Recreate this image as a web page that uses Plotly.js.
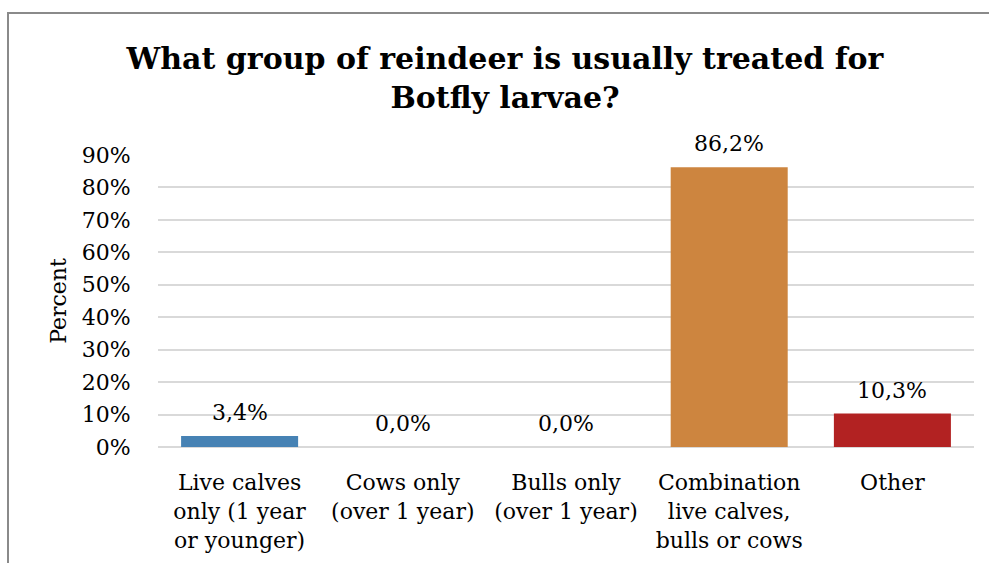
<!DOCTYPE html>
<html>
<head>
<meta charset="utf-8">
<script src="https://cdn.plot.ly/plotly-3.0.1.min.js"></script>
<style>
html, body { margin: 0; padding: 0; background: #ffffff; }
#chart { position: absolute; left: 0; top: 0; width: 989px; height: 563px; }
#frame { position: absolute; left: 7px; top: 12px; width: 1100px; height: 700px;
  border-left: 2px solid #8a8a8a; border-top: 2px solid #8a8a8a; pointer-events: none; }
</style>
</head>
<body>
<div id="chart"></div>
<div id="frame"></div>
<script>
const categories = [
  "Live calves<br>only (1 year<br>or younger)",
  "Cows only<br>(over 1 year)",
  "Bulls only<br>(over 1 year)",
  "Combination<br>live calves,<br>bulls or cows",
  "Other"
];
const values = [0.034, 0.0, 0.0, 0.862, 0.103];
const barColors = ["#4682B4", "#4682B4", "#4682B4", "#CD853F", "#B22222"];
const tickValues = [0, 0.1, 0.2, 0.3, 0.4, 0.5, 0.6, 0.7, 0.8, 0.9];
const tickLabels = ["0%", "10%", "20%", "30%", "40%", "50%", "60%", "70%", "80%", "90%"];
const titleText = "What group of reindeer is usually treated for<br>Botfly larvae?";
const yTitle = "Percent";

const FONT = "DejaVu Serif, Liberation Serif, serif";
const fmt = v => (v * 100).toFixed(1).replace(".", ",") + "%";

const trace = {
  type: "bar",
  x: categories,
  y: values,
  marker: { color: barColors },
  width: 0.717,
  hoverinfo: "skip"
};

const annotations = categories.map((c, i) => ({
  x: c, y: values[i], xref: "x", yref: "y",
  text: fmt(values[i]), showarrow: false,
  yanchor: "bottom", yshift: 9,
  font: { family: FONT, size: 22, color: "#000000" }
}));

const layout = {
  width: 989, height: 563,
  paper_bgcolor: "#ffffff", plot_bgcolor: "#ffffff",
  margin: { l: 158, r: 15, t: 155, b: 116, pad: 0 },
  showlegend: false,
  title: {
    text: titleText,
    x: 505 / 989, xanchor: "center",
    y: 1 - 69 / 563, yanchor: "top",
    font: { family: FONT, size: 30, color: "#000000", weight: "bold" }
  },
  xaxis: {
    type: "category",
    showgrid: false, zeroline: false, showline: false,
    ticks: "outside", ticklen: 16, tickcolor: "rgba(0,0,0,0)",
    tickfont: { family: FONT, size: 22, color: "#000000" },
    automargin: false
  },
  yaxis: {
    range: [0, 0.9],
    tickvals: tickValues, ticktext: tickLabels,
    showgrid: true, gridcolor: "#d9d9d9", gridwidth: 2,
    zeroline: true, zerolinecolor: "#d9d9d9", zerolinewidth: 2,
    showline: false,
    ticks: "outside", ticklen: 22, tickcolor: "rgba(0,0,0,0)",
    tickfont: { family: FONT, size: 22, color: "#000000" },
    title: { text: yTitle, standoff: 8, font: { family: FONT, size: 22, color: "#000000" } },
    automargin: false
  },
  annotations: annotations
};

Plotly.newPlot("chart", [trace], layout, { displayModeBar: false, staticPlot: true });
</script>
</body>
</html>
